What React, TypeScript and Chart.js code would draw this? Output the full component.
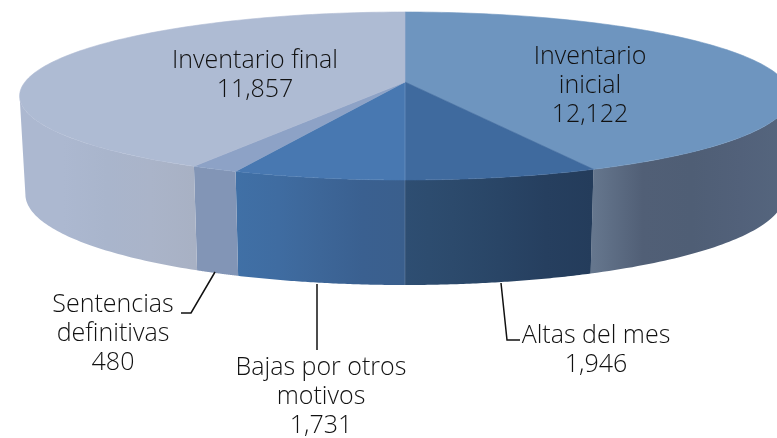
import React, { useEffect, useRef } from "react";
import { Chart, registerables } from "chart.js";

Chart.register(...registerables);

const categories = [["Inventario", "inicial"], ["Altas del mes"], ["Bajas por otros", "motivos"], ["Sentencias", "definitivas"], ["Inventario final"]];
const values = [12122, 1946, 1731, 480, 11857];
const topColors = ["#6E95BF", "#3F6A9E", "#4878B1", "#8DA2C6", "#AEBBD3"];
const wallStops = [
  ["#65768D", "#515F76", "#4F5E75", "#52617A", "#55667E"],
  ["#2E4E72", "#2C4A6C", "#294566", "#263F5F", "#243C5B"],
  ["#4070A6", "#3F6CA1", "#3D6698", "#3A6090", "#3A5F8D"],
  ["#8295B6", "#8295B6"],
  ["#ACB8D0", "#ACB8D0", "#A9B5CC", "#AAB4C9", "#A8B1C4"],
];
const labelCenters = [[590, 57], [596, 336], [321, 368], [113, 305], [255, 61]];
const leaders = [
  [[501, 283], [507, 340], [520, 340]],
  [[317, 284], [317, 350]],
  [[215, 272], [191, 313], [181, 313]],
];

const CX = 405, CY = 82, A = 380, B = 81.67, P = 1 / 6;
const project = (t: number) => {
  const X = Math.sin(t), Y = -Math.cos(t), k = 1 / (1 - P * Y);
  return { x: CX + A * X * k, y: CY + B * Y * k, Y };
};
const projectBottom = (t: number) => {
  const p = project(t);
  return { x: CX + (p.x - CX) * 0.985, y: p.y + 97 + 8 * p.Y };
};
const LEFT_T = Math.PI + Math.acos(P);
const RIGHT_T = Math.PI - Math.acos(P);

const pie3d = {
  id: "pie3d",
  beforeDatasetsDraw(chart: any) {
    const ctx = chart.ctx;
    const arcs = chart.getDatasetMeta(0).data;
    const spans = arcs.map((a: any) => [a.startAngle + Math.PI / 2, a.endAngle + Math.PI / 2]);
    // walls
    spans.forEach(([s, e]: number[], i: number) => {
      const a0 = Math.max(s, RIGHT_T), a1 = Math.min(e, LEFT_T);
      if (a1 <= a0) return;
      const n = 60;
      ctx.beginPath();
      for (let j = 0; j <= n; j++) {
        const p = project(a0 + ((a1 - a0) * j) / n);
        j ? ctx.lineTo(p.x, p.y) : ctx.moveTo(p.x, p.y);
      }
      for (let j = n; j >= 0; j--) {
        const p = projectBottom(a0 + ((a1 - a0) * j) / n);
        ctx.lineTo(p.x, p.y);
      }
      ctx.closePath();
      const xa = project(a1).x, xb = project(a0).x;
      const g = ctx.createLinearGradient(xa, 0, xb, 0);
      const stops = wallStops[i];
      stops.forEach((c, k) => g.addColorStop(k / (stops.length - 1), c));
      ctx.fillStyle = g;
      ctx.fill();
    });
    // top faces
    spans.forEach(([s, e]: number[], i: number) => {
      const n = 120;
      ctx.beginPath();
      ctx.moveTo(CX, CY);
      for (let j = 0; j <= n; j++) {
        const p = project(s + ((e - s) * j) / n);
        ctx.lineTo(p.x, p.y);
      }
      ctx.closePath();
      ctx.fillStyle = arcs[i].options.backgroundColor;
      ctx.strokeStyle = arcs[i].options.backgroundColor;
      ctx.lineWidth = 0.6;
      ctx.fill();
      ctx.stroke();
    });
    // seam between Altas and Bajas
    const seam = spans[1][1];
    const t = project(seam), b = projectBottom(seam);
    ctx.strokeStyle = "rgba(255,255,255,0.16)";
    ctx.lineWidth = 1;
    ctx.beginPath();
    ctx.moveTo(CX, CY);
    ctx.lineTo(t.x, t.y);
    ctx.lineTo(b.x, b.y);
    ctx.stroke();
    return false;
  },
  afterDraw(chart: any) {
    const ctx = chart.ctx;
    ctx.save();
    ctx.strokeStyle = "#111";
    ctx.lineWidth = 1.5;
    leaders.forEach((pts) => {
      ctx.beginPath();
      pts.forEach(([x, y], i) => (i ? ctx.lineTo(x, y) : ctx.moveTo(x, y)));
      ctx.stroke();
    });
    ctx.fillStyle = "#111";
    ctx.font = '300 25px "Open Sans"';
    ctx.textAlign = "center";
    ctx.textBaseline = "middle";
    categories.forEach((lines, i) => {
      const [x, y] = labelCenters[i];
      const all = [...lines, values[i].toLocaleString("en-US")];
      all.forEach((l, j) => ctx.fillText(l, x, y + j * 29));
    });
    ctx.restore();
  },
};

export default function App() {
  const ref = useRef<HTMLCanvasElement>(null);
  useEffect(() => {
    const chart = new Chart(ref.current!, {
      type: "pie",
      data: {
        labels: categories.map((c) => c.join(" ")),
        datasets: [{ data: values, backgroundColor: topColors, borderWidth: 0 }],
      },
      options: {
        animation: false,
        responsive: false,
        plugins: { legend: { display: false }, tooltip: { enabled: false } },
      },
      plugins: [pie3d],
    } as any);
    return () => chart.destroy();
  }, []);
  return (
    <div style={{ position: "fixed", left: 0, top: 0, width: 777, height: 438, background: "#fff", overflow: "hidden" }}>
      <canvas ref={ref} width={777} height={438} style={{ display: "block" }} />
    </div>
  );
}
